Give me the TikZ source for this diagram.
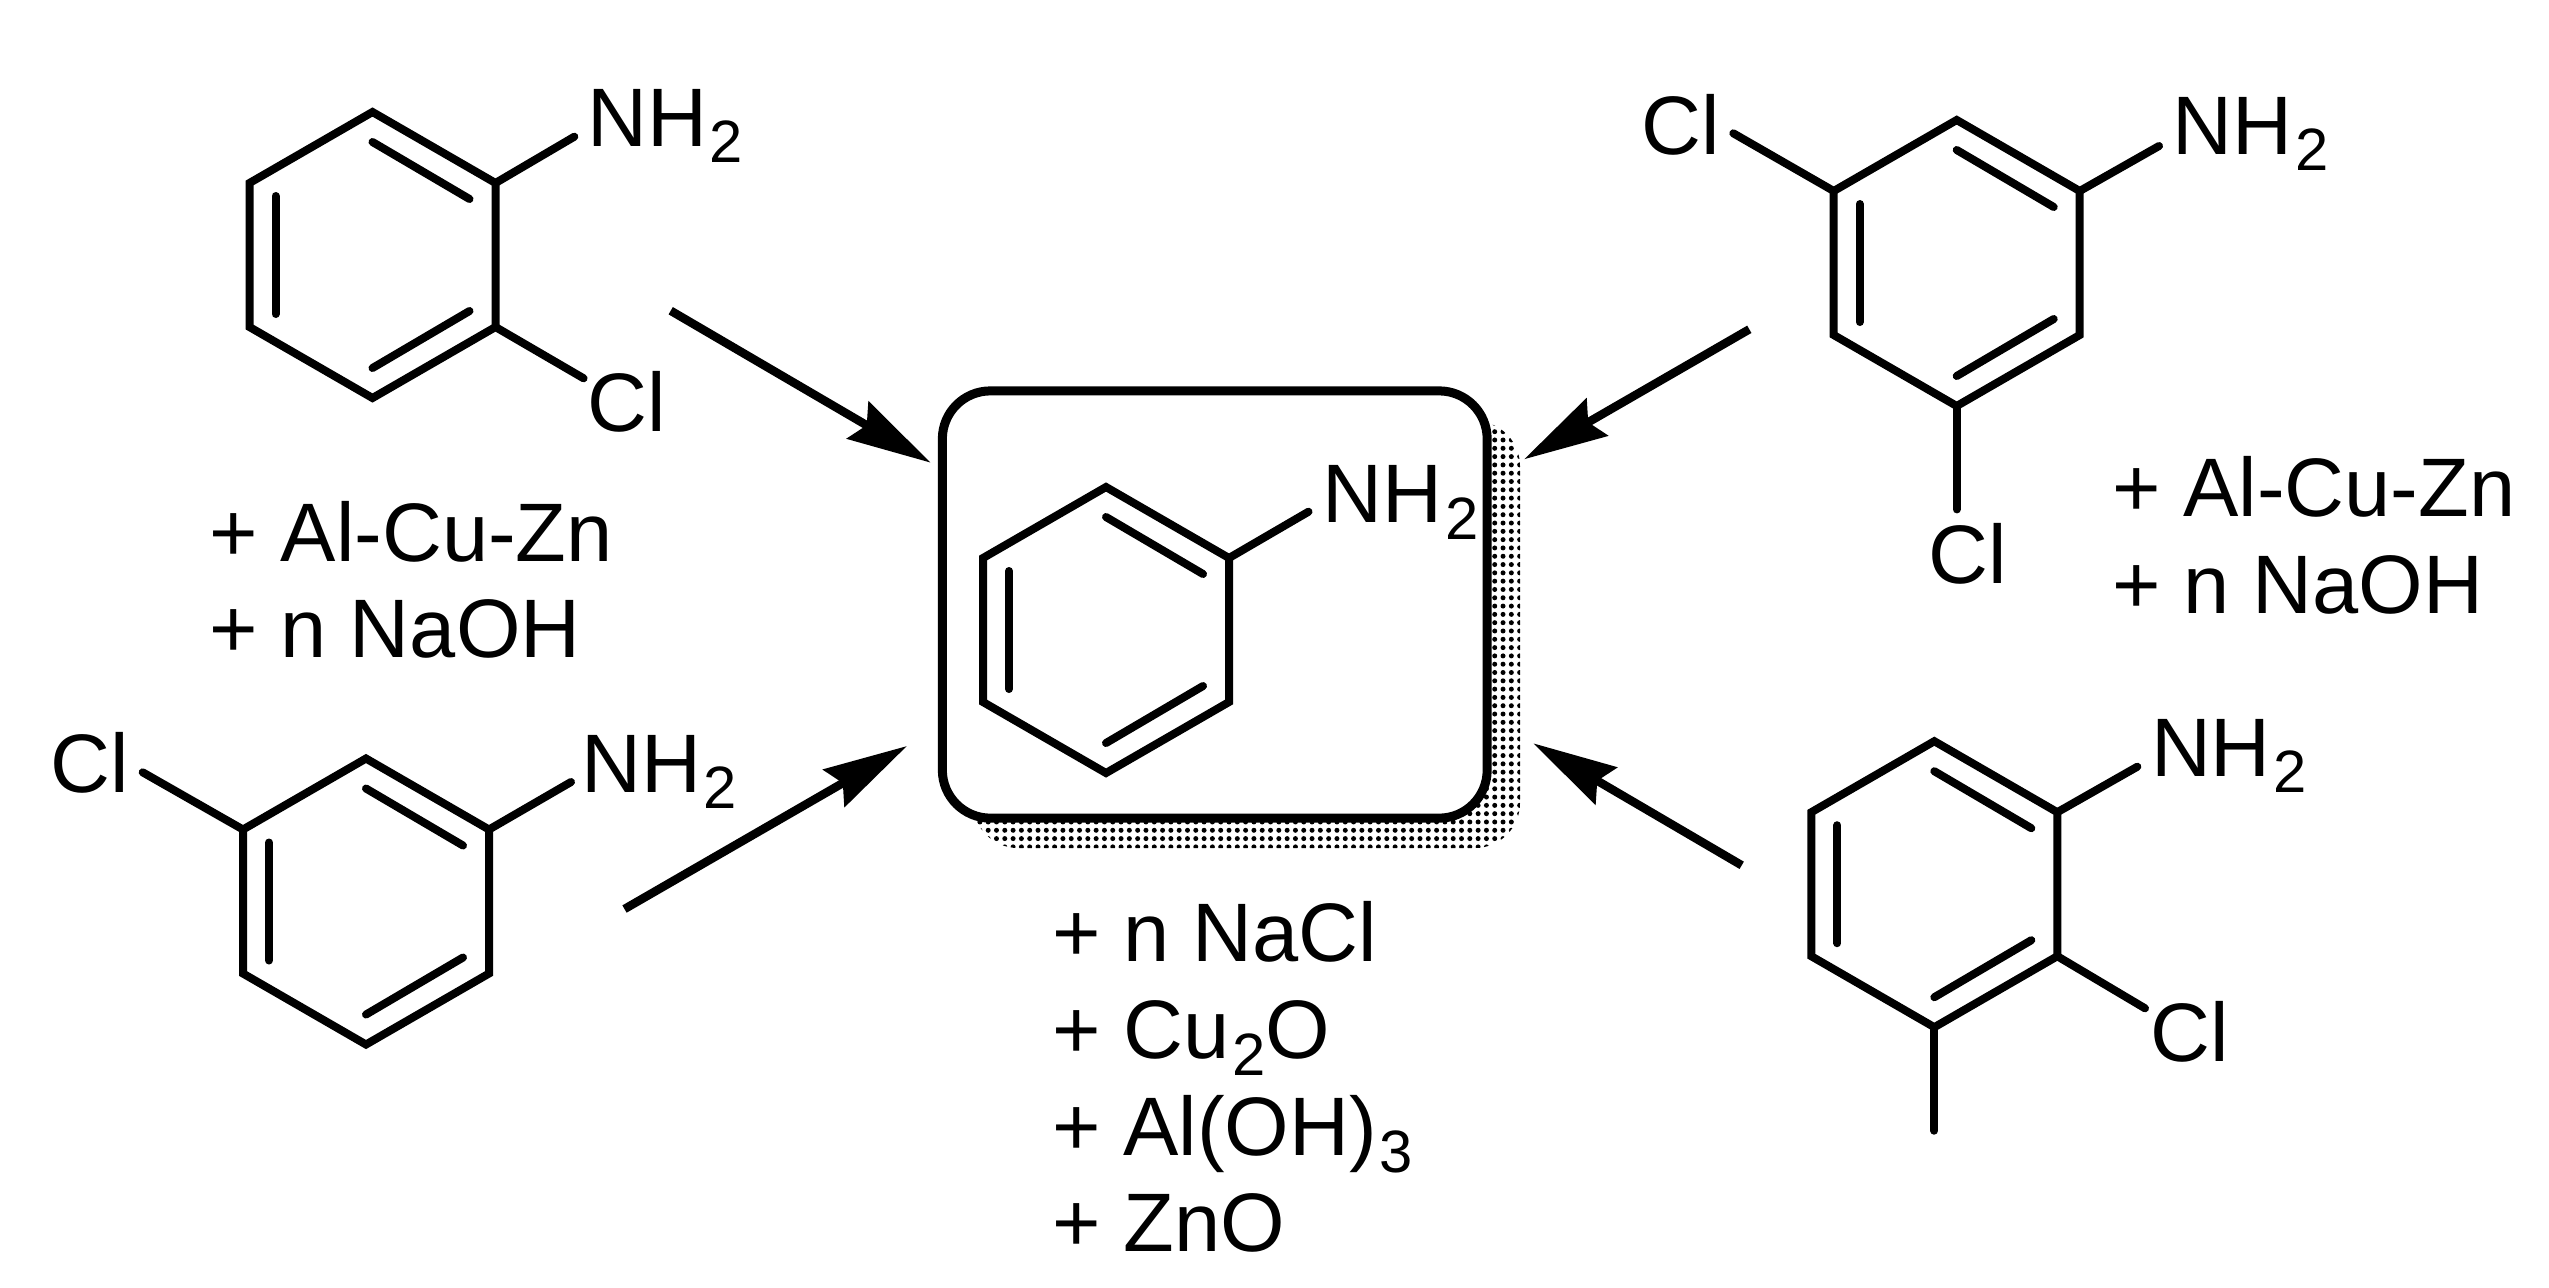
\documentclass[tikz,border=0pt]{standalone}
\usepackage{fontspec}
\setmainfont{Liberation Sans}
\usetikzlibrary{arrows.meta,patterns.meta}

\newcommand{\chemsub}[1]{\kern0.8pt\raisebox{-4.8pt}{\fontsize{17}{17}\selectfont #1}}
\newcommand{\benzene}[3]{%
    \begin{scope}[shift={(#2,#3)}]
        \coordinate (#1a) at (0,-143);
        \coordinate (#1b) at (123,-72);
        \coordinate (#1c) at (123,72);
        \coordinate (#1d) at (0,143);
        \coordinate (#1e) at (-123,72);
        \coordinate (#1f) at (-123,-72);
        \coordinate (#1p) at (0,-113);
        \coordinate (#1q) at (97,-56);
        \coordinate (#1r) at (97,56);
        \coordinate (#1s) at (0,113);
        \coordinate (#1t) at (-97,59);
        \coordinate (#1u) at (-97,-59);
    \end{scope}
    \draw[bond] (#1a) -- (#1b) -- (#1c) -- (#1d) -- (#1e) -- (#1f) -- cycle;
    \path[bond] (#1p) edge (#1q)
                (#1r) edge (#1s)
                (#1t) edge (#1u);
}

\begin{document}
\begin{tikzpicture}[x=0.01cm,y=-0.01cm,
        >={Stealth[length=0.84cm,width=0.425cm,inset=0.1cm]},
        bond/.style={line width=0.08cm,line cap=round,line join=miter},
        react/.style={line width=0.085cm,->},
        atom/.style={anchor=base west,inner sep=0pt,font=\fontsize{23.6}{26}\selectfont}]
    \useasboundingbox (0,0) rectangle (2549,1287);

    % product box
    \fill[pattern={Dots[distance=0.083cm,radius=0.025cm]},rounded corners=0.45cm] (973,421) rectangle (1520,848);
    \node[draw,fill=white,line width=0.09cm,rounded corners=0.48cm,minimum width=5.445cm,minimum height=4.27cm,inner sep=0pt] (box) at (1214.75,604.5) {};

    \benzene{r1}{372.5}{255}
    \benzene{r2}{1106}{630}
    \benzene{r3}{366}{901.5}
    \benzene{r4}{1956.7}{263}
    \benzene{r5}{1934.3}{884.2}

    \node[atom] (n1) at (586.6,146) {NH\chemsub{2}};
    \node[atom] (cl1) at (587,431.7) {Cl};
    \node[atom] (n2) at (1322,522.3) {NH\chemsub{2}};
    \node[atom] (cl3) at (49.8,792.3) {Cl};
    \node[atom] (n3) at (580.6,792) {NH\chemsub{2}};
    \node[atom] (cl4) at (1640.8,154.7) {Cl};
    \node[atom] (n4) at (2171.6,154) {NH\chemsub{2}};
    \node[atom] (cl5) at (1927.5,583.4) {Cl};
    \node[atom] (n5) at (2150.3,776) {NH\chemsub{2}};
    \node[atom] (cl6) at (2150,1061.7) {Cl};

    \coordinate (b1n) at (574.3,136.7);
    \coordinate (b1c) at (583.6,378.3);
    \coordinate (b2n) at (1308.5,511.7);
    \coordinate (b3c) at (142.7,772.3);
    \coordinate (b3n) at (571,782);
    \coordinate (b4c) at (1733.3,133.3);
    \coordinate (b4n) at (2159,146);
    \coordinate (b4d) at (1956.7,509.4);
    \coordinate (b5n) at (2137.3,766.7);
    \coordinate (b5c) at (2145,1008.3);
    \coordinate (b5m) at (1934.3,1130.7);

    \path[bond]
        (r1b) edge (b1n)
        (r1c) edge (b1c)
        (r2b) edge (b2n)
        (r3f) edge (b3c)
        (r3b) edge (b3n)
        (r4f) edge (b4c)
        (r4b) edge (b4n)
        (r4d) edge (b4d)
        (r5b) edge (b5n)
        (r5c) edge (b5c)
        (r5d) edge (b5m);

    \coordinate (a1s) at (670.7,310.7);
    \coordinate (a1e) at (930.7,462.7);
    \coordinate (a2s) at (1749.3,329.3);
    \coordinate (a2e) at (1524,459.3);
    \coordinate (a3s) at (624.5,909);
    \coordinate (a3e) at (907,746);
    \coordinate (a4s) at (1741.7,865.3);
    \coordinate (a4e) at (1533.3,743.3);

    \draw[react] (a1s) -- (a1e);
    \draw[react] (a2s) -- (a2e);
    \draw[react] (a3s) -- (a3e);
    \draw[react] (a4s) -- (a4e);

    \node[atom] (left1) at (208.6,561.7) {+ Al-Cu-Zn};
    \node[atom] (left2) at (208.6,657.3) {+ n NaOH};
    \node[atom] (right1) at (2111.3,516.7) {+ Al-Cu-Zn};
    \node[atom] (right2) at (2111.3,613.3) {+ n NaOH};
    \node[atom] (out1) at (1051.3,961.7) {+ n NaCl};
    \node[atom] (out2) at (1051.3,1058.3) {+ Cu\chemsub{2}O};
    \node[atom] (out3) at (1051.3,1155.7) {+ Al(OH)\chemsub{3}};
    \node[atom] (out4) at (1051.3,1251.7) {+ ZnO};
\end{tikzpicture}
\end{document}
